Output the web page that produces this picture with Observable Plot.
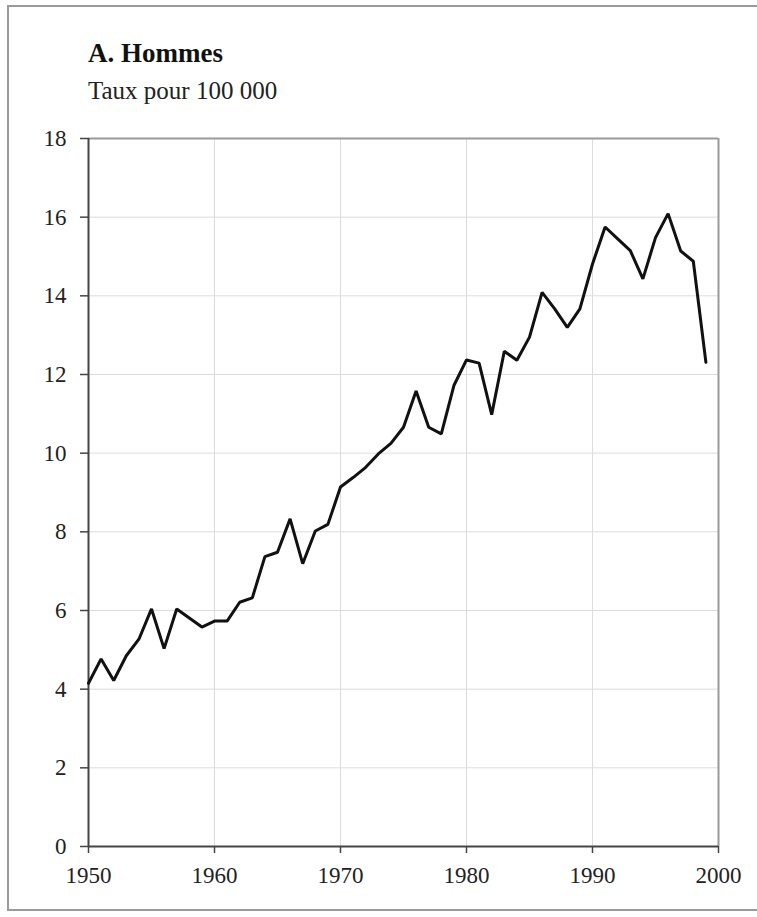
<!DOCTYPE html>
<html>
<head>
<meta charset="utf-8">
<script src="https://cdn.jsdelivr.net/npm/d3@7"></script>
<script src="https://cdn.jsdelivr.net/npm/@observablehq/plot@0.6"></script>
<style>
  html, body { margin: 0; padding: 0; background: #fff; }
  #page { position: relative; width: 757px; height: 917px; overflow: hidden; background: #fff; }
  #frame { position: absolute; left: 7px; top: 5px; width: 760px; height: 906px; border: 2px solid #9a9a9a; box-sizing: border-box; }
  #title { position: absolute; left: 88px; top: 38px; font-family: "Liberation Serif", serif; font-weight: bold; font-size: 27px; line-height: 30px; color: #111; white-space: nowrap; }
  #subtitle { position: absolute; left: 88px; top: 77px; font-family: "Liberation Serif", serif; font-size: 25px; line-height: 28px; color: #222; white-space: nowrap; }
  #chart { position: absolute; left: 0; top: 118px; }
  #chart svg { font-family: "Liberation Serif", serif; }
</style>
</head>
<body>
<div id="page">
  <div id="frame"></div>
  <div id="title">A. Hommes</div>
  <div id="subtitle">Taux pour 100 000</div>
  <div id="chart"></div>
</div>
<script>
const years = [1950,1951,1952,1953,1954,1955,1956,1957,1958,1959,
               1960,1961,1962,1963,1964,1965,1966,1967,1968,1969,
               1970,1971,1972,1973,1974,1975,1976,1977,1978,1979,
               1980,1981,1982,1983,1984,1985,1986,1987,1988,1989,
               1990,1991,1992,1993,1994,1995,1996,1997,1998,1999];
const taux = [4.15,4.77,4.22,4.85,5.27,6.04,5.03,6.04,5.81,5.58,
              5.73,5.73,6.21,6.32,7.37,7.48,8.33,7.19,8.02,8.19,
              9.14,9.38,9.64,9.98,10.25,10.66,11.58,10.66,10.49,11.72,
              12.37,12.29,10.98,12.59,12.36,12.95,14.09,13.67,13.2,13.67,
              14.81,15.75,15.45,15.15,14.43,15.48,16.09,15.14,14.88,12.31];
const xTicks = [1950,1960,1970,1980,1990,2000];
const yTicks = [0,2,4,6,8,10,12,14,16,18];

const data = years.map((y, i) => ({year: y, value: taux[i]}));

const chart = Plot.plot({
  width: 757,
  height: 778,
  marginLeft: 88,
  marginRight: 39,
  marginTop: 20,
  marginBottom: 50,
  style: {fontFamily: "Liberation Serif, serif", fontSize: "23px", color: "#222", background: "transparent"},
  x: {domain: [1950, 2000]},
  y: {domain: [0, 18]},
  marks: [
    Plot.gridX(xTicks, {stroke: "#dcdcdc", strokeOpacity: 1, strokeWidth: 1}),
    Plot.gridY(yTicks, {stroke: "#dcdcdc", strokeOpacity: 1, strokeWidth: 1}),
    Plot.ruleY([18], {stroke: "#9a9a9a", strokeWidth: 2}),
    Plot.ruleX([2000], {stroke: "#9a9a9a", strokeWidth: 2}),
    Plot.axisX(xTicks, {tickFormat: d => String(d), tickSize: 7, tickPadding: 13, label: null, stroke: "#444", strokeWidth: 1.5, fill: "#222"}),
    Plot.axisY(yTicks, {tickSize: 8, tickPadding: 14, label: null, stroke: "#444", strokeWidth: 1.5, fill: "#222"}),
    Plot.ruleX([1950], {stroke: "#444", strokeWidth: 2}),
    Plot.ruleY([0], {stroke: "#444", strokeWidth: 2}),
    Plot.line(data, {x: "year", y: "value", stroke: "#111", strokeWidth: 3, strokeLinejoin: "miter"})
  ]
});
document.getElementById("chart").appendChild(chart);
</script>
</body>
</html>
